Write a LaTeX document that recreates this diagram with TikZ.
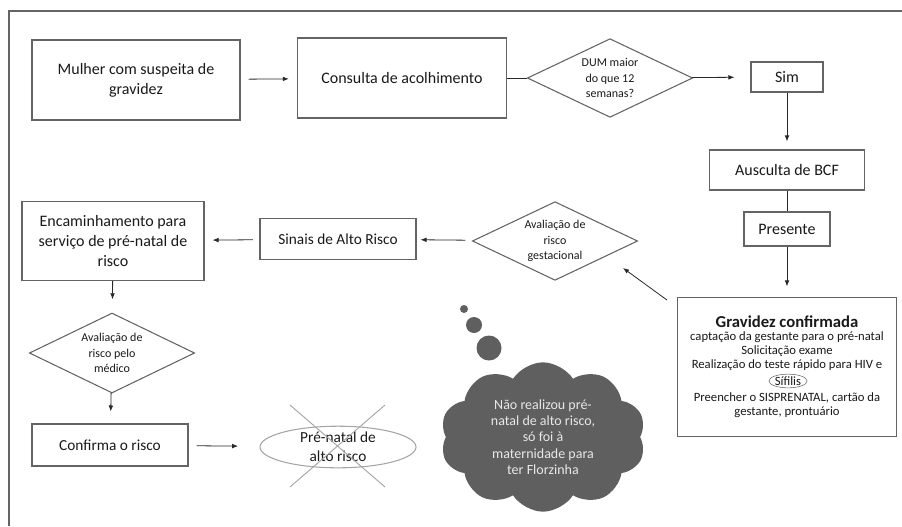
\documentclass[tikz,border=0pt]{standalone}
\usepackage{fontspec}
\setmainfont{Carlito}
\usetikzlibrary{shapes.geometric,shapes.symbols,arrows.meta}
\definecolor{boxgray}{RGB}{100,100,100}
\definecolor{arrowgray}{RGB}{40,40,40}
\definecolor{textdark}{RGB}{25,25,25}
\definecolor{cloudgray}{RGB}{95,95,95}
\definecolor{cloudtext}{RGB}{232,232,232}
\definecolor{crossgray}{RGB}{165,165,165}

\begin{document}
\begin{tikzpicture}[x=0.75pt,y=-0.75pt,
    box/.style={draw=boxgray, line width=0.8pt, align=center, text=textdark, font=\fontsize{12}{15}\selectfont, inner sep=2pt},
    decision/.style={diamond, draw=boxgray, line width=0.8pt, align=center, text=textdark, aspect=2.1, inner sep=0.5pt, minimum width=124pt, minimum height=59pt, font=\fontsize{9}{11.5}\selectfont},
    flow/.style={line width=0.6pt, draw=arrowgray, -{Latex[length=4.5pt,width=3.5pt]}},
    link/.style={line width=0.6pt, draw=arrowgray}]
        \useasboundingbox (0,0) rectangle (902,526);
        \draw[boxgray, line width=1pt] (9,526) -- (9,11) -- (902,11);

        % top row
        \node[box, minimum width=156pt, minimum height=60pt] (mulher) at (136,80) {Mulher com suspeita de\\gravidez};
        \node[box, minimum width=157pt, minimum height=60pt] (consulta) at (402,78) {Consulta de acolhimento};
        \node[decision] (dum) at (610,78) {DUM maior\\do que 12\\semanas?};
        \node[box, minimum width=54pt, minimum height=22.5pt] (sim) at (787,77) {Sim};

        % right column
        \node[box, minimum width=116pt, minimum height=30pt] (bcf) at (787,170) {Ausculta de BCF};
        \node[box, minimum width=64.5pt, minimum height=25.5pt] (presente) at (787,229) {Presente};
        \node[box, minimum width=164pt, minimum height=104pt] (conf) at (787,367) {};
        \node[text=textdark, font=\bfseries\fontsize{12.5}{14}\selectfont] (conftitulo) at (787,322) {Gravidez confirmada};
        \node[text=textdark, align=center, font=\fontsize{9.5}{10.6}\selectfont] (confacoes) at (787,351) {captação da gestante para o pré-natal\\Solicitação exame\\Realização do teste rápido para HIV e};
        \node[ellipse, draw=boxgray, thin, inner sep=0.3pt, text=textdark, font=\fontsize{9.5}{10.6}\selectfont] (sifilis) at (788,381) {Sífilis};
        \node[text=textdark, align=center, font=\fontsize{9.5}{10.6}\selectfont] (confregistro) at (787,405) {Preencher o SISPRENATAL, cartão da\\gestante, prontuário};

        % middle row
        \node[decision] (gestacional) at (555,241) {Avaliação de\\risco\\gestacional};
        \node[box, font=\fontsize{11.5}{14}\selectfont, minimum width=117pt, minimum height=31pt] (sinais) at (338,239) {Sinais de Alto Risco};
        \node[box, minimum width=136.5pt, minimum height=59pt] (encaminha) at (113,241) {Encaminhamento para\\serviço de pré-natal de\\risco};

        % left column and bottom
        \node[decision, minimum height=60pt] (medico) at (112,353) {Avaliação de\\risco pelo\\médico};
        \node[box, font=\fontsize{11.5}{14}\selectfont, minimum width=117pt, minimum height=31.5pt] (confirma) at (110,445) {Confirma o risco};
        \node[ellipse, draw=crossgray, line width=0.8pt, align=center, text=textdark, inner sep=0pt, minimum width=117pt, minimum height=30pt, font=\fontsize{11.5}{14}\selectfont] (altorisco) at (338,447) {Pré-natal de\\alto risco};
        \draw[crossgray, line width=0.7pt] (290,405) -- (385,487);
        \draw[crossgray, line width=0.7pt] (385,405) -- (290,487);

        % thought cloud
        \fill[cloudgray] (464,309) circle (4);
        \fill[cloudgray] (474,325) circle (8);
        \fill[cloudgray] (489,348) circle (12.5);
        \node[cloud, cloud puffs=10, cloud puff arc=115, aspect=1.35, fill=cloudgray, text=cloudtext, align=center, minimum width=154pt, minimum height=112pt, font=\fontsize{10.5}{12.3}\selectfont] (nuvem) at (543,437) {Não realizou pré-\\natal de alto risco,\\só foi à\\maternidade para\\ter Florzinha};

        % connectors
        \coordinate (gestentrada) at (623,268);
        \draw[flow, shorten <=6pt, shorten >=6pt] (mulher) -- (consulta);
        \draw[link] (consulta) -- (dum);
        \draw[flow, shorten >=12pt] (dum) -- (sim);
        \draw[flow, shorten >=6pt] (sim) -- (bcf);
        \draw[link] (bcf) -- (presente);
        \draw[flow, shorten >=8pt] (presente) -- (conf);
        \draw[flow] ([shift={(-10,3)}]conf.north west) -- (gestentrada);
        \draw[flow, shorten <=6pt, shorten >=3pt] (gestacional) -- (sinais);
        \draw[flow, shorten <=5pt, shorten >=6pt] (sinais) -- (encaminha);
        \draw[flow, shorten >=10pt] (encaminha) -- (medico);
        \draw[flow, shorten >=9pt] (medico) -- (confirma);
        \draw[flow, shorten <=6pt, shorten >=16pt] (confirma) -- (altorisco);
\end{tikzpicture}
\end{document}
